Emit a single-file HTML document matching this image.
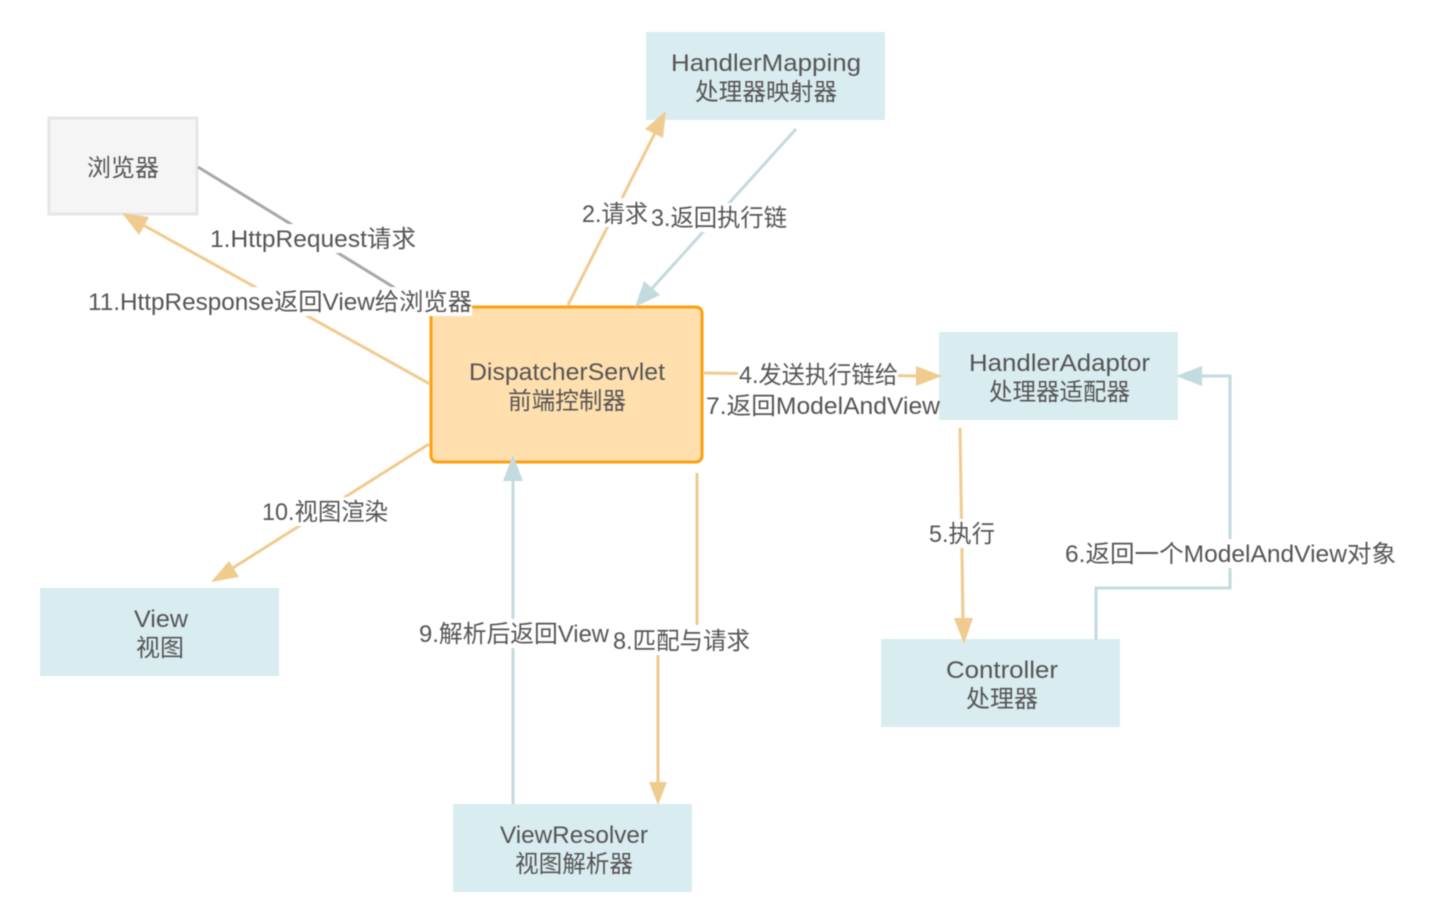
<!DOCTYPE html>
<html><head><meta charset="utf-8">
<style>
html,body{margin:0;padding:0;background:#fff;width:1440px;height:921px;overflow:hidden}
svg{display:block;filter:blur(.45px)}
text{font-family:"Liberation Sans","Noto Sans CJK SC",sans-serif;font-size:24px;fill:#555;text-anchor:start}
.l{fill:none;stroke-width:3}
.o{stroke:#f0cb90}.b{stroke:#c3dade}.g{stroke:#a8a8a8}
</style></head><body>
<svg width="1440" height="921" viewBox="0 0 1440 921" xmlns="http://www.w3.org/2000/svg">
<rect x="49" y="118" width="148" height="96" fill="#f5f5f5" stroke="#e6e6e6" stroke-width="3"/>
<rect x="646" y="32" width="239" height="88" fill="#d9ecf0"/>
<rect x="939" y="332" width="239" height="88" fill="#d9ecf0"/>
<rect x="40" y="588" width="239" height="88" fill="#d9ecf0"/>
<rect x="881" y="639" width="239" height="88" fill="#d9ecf0"/>
<rect x="453" y="804" width="239" height="88" fill="#d9ecf0"/>
<rect x="431" y="307" width="271" height="155" rx="6" fill="#ffdfae" stroke="#ff9f10" stroke-width="3"/>

<path class="l g" d="M198 167L395 288"/>
<path class="l o" d="M430 384L136 221"/><polygon points="122,213 149,217 139,235" fill="#f0cb90"/>
<path class="l o" d="M568 305L658 127"/><polygon points="666,111 663,138 645,129" fill="#f0cb90"/>
<path class="l b" d="M796 129L647 294"/><polygon points="635,307 644,281 660,295" fill="#c3dade"/>
<path class="l o" d="M704 373L920 376"/><polygon points="942,376 916,386 916,366" fill="#f0cb90"/>
<path class="l o" d="M960 428L963 620"/><polygon points="964,644 954,618 973,618" fill="#f0cb90"/>
<path class="l b" d="M1096 640V588H1230V376H1198"/><polygon points="1176,376 1202,366 1202,386" fill="#c3dade"/>
<path class="l o" d="M697 473V625"/><path class="l o" d="M658 650V785"/><polygon points="658,805 649,782 667,782" fill="#f0cb90"/>
<path class="l b" d="M513 804V475"/><polygon points="513,455 523,481 503,481" fill="#c3dade"/>
<path class="l o" d="M429 444L228 571"/><polygon points="211,582 229,561 239,577" fill="#f0cb90"/>

<rect x="209" y="224" width="208" height="29" fill="#fff"/>
<rect x="87" y="287" width="385" height="29" fill="#fff"/>
<rect x="582" y="198" width="67" height="29" fill="#fff"/>
<rect x="650" y="203" width="137" height="29" fill="#fff"/>
<rect x="738" y="360" width="160" height="29" fill="#fff"/>
<rect x="705" y="392" width="234" height="27" fill="#fff"/>
<rect x="929" y="519" width="66" height="29" fill="#fff"/>
<rect x="1064" y="539" width="332" height="29" fill="#fff"/>
<rect x="261" y="497" width="127" height="29" fill="#fff"/>
<rect x="418" y="619" width="191" height="29" fill="#fff"/>
<rect x="612" y="626" width="138" height="29" fill="#fff"/>

<text x="87" y="176" textLength="72" lengthAdjust="spacingAndGlyphs">浏览器</text>
<text x="671" y="71" textLength="190" lengthAdjust="spacingAndGlyphs">HandlerMapping</text>
<text x="695" y="100" textLength="142" lengthAdjust="spacingAndGlyphs">处理器映射器</text>
<text x="469" y="380" textLength="196" lengthAdjust="spacingAndGlyphs">DispatcherServlet</text>
<text x="508" y="409" textLength="118" lengthAdjust="spacingAndGlyphs">前端控制器</text>
<text x="969" y="371" textLength="181" lengthAdjust="spacingAndGlyphs">HandlerAdaptor</text>
<text x="989" y="400" textLength="141" lengthAdjust="spacingAndGlyphs">处理器适配器</text>
<text x="134" y="627" textLength="54" lengthAdjust="spacingAndGlyphs">View</text>
<text x="136" y="656" textLength="48" lengthAdjust="spacingAndGlyphs">视图</text>
<text x="946" y="678" textLength="112" lengthAdjust="spacingAndGlyphs">Controller</text>
<text x="966" y="707" textLength="72" lengthAdjust="spacingAndGlyphs">处理器</text>
<text x="500" y="843" textLength="148" lengthAdjust="spacingAndGlyphs">ViewResolver</text>
<text x="515" y="872" textLength="118" lengthAdjust="spacingAndGlyphs">视图解析器</text>

<text x="210" y="247" textLength="206" lengthAdjust="spacingAndGlyphs">1.HttpRequest请求</text>
<text x="88" y="310" textLength="384" lengthAdjust="spacingAndGlyphs">11.HttpResponse返回View给浏览器</text>
<text x="582" y="222" textLength="66" lengthAdjust="spacingAndGlyphs">2.请求</text>
<text x="651" y="226" textLength="136" lengthAdjust="spacingAndGlyphs">3.返回执行链</text>
<text x="739" y="383" textLength="159" lengthAdjust="spacingAndGlyphs">4.发送执行链给</text>
<text x="706" y="414" textLength="234" lengthAdjust="spacingAndGlyphs">7.返回ModelAndView</text>
<text x="929" y="542" textLength="66" lengthAdjust="spacingAndGlyphs">5.执行</text>
<text x="1065" y="562" textLength="331" lengthAdjust="spacingAndGlyphs">6.返回一个ModelAndView对象</text>
<text x="262" y="520" textLength="126" lengthAdjust="spacingAndGlyphs">10.视图渲染</text>
<text x="419" y="642" textLength="190" lengthAdjust="spacingAndGlyphs">9.解析后返回View</text>
<text x="613" y="649" textLength="137" lengthAdjust="spacingAndGlyphs">8.匹配与请求</text>
</svg>
</body></html>
